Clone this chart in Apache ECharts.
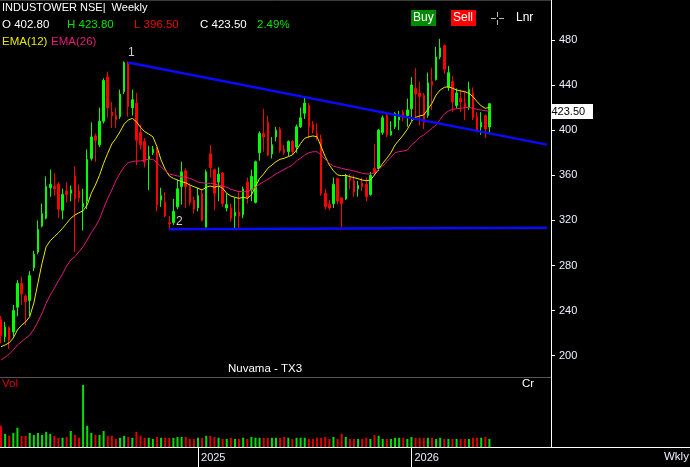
<!DOCTYPE html>
<html><head><meta charset="utf-8">
<script src="https://cdn.jsdelivr.net/npm/echarts@6/dist/echarts.min.js"></script>
<style>html,body{margin:0;padding:0;background:#000;overflow:hidden}#c{width:690px;height:467px}</style>
</head><body><div id="c"></div>
<script>
// ---- data ----
const opens = [232,217,225,221,243,264,253,249,278,292,
 315,322,349,350,352,329,346,344,359,346,
 332,337,375,395,387,408,447,416,413,412,
 434,460,420,424,398,390,374,380,382,338,
 336,318,318,332,350,364,350,338,331,344,
 314,379,365,354,362,331,331,324,327,325,
 354,347,336,380,397,407,379,394,401,383,
 381,390,385,403,415,422,405,397,392,344,
 334,335,357,340,339,358,355,348,353,352,
 343,366,366,398,413,396,403,409,416,413,
 419,437,433,431,413,443,445,465,475,438,
 443,422,428,424,420,433,412,403,413,402.8];
const closes = [218,225,214,240,264,255,248,271,290,312,
 326,350,352,348,330,343,343,347,339,340,
 335,374,394,391,408,444,420,413,409,432,
 460,421,427,391,387,372,377,383,334,342,
 324,317,328,348,363,350,336,330,342,320,
 363,367,344,361,335,334,322,327,324,348,
 340,359,372,397,394,378,387,400,382,380,
 390,381,403,411,424,403,400,394,344,332,
 331,352,337,335,360,356,345,351,350,341,
 360,362,400,411,396,399,415,412,413,418,
 440,432,430,407,442,440,465,473,454,451,
 425,433,425,421,436,411,400,407,401,423.5];
const lows = [211,212,206,217,235,245,227,235,275,290,
 314,321,341,342,322,321,336,337,292,336,
 311,330,373,372,385,406,411,402,402,410,
 432,412,413,369,383,367,347,378,328,332,
 323,312,316,330,334,331,333,326,328,319,
 314,358,329,337,332,328,319,313,313,322,
 335,337,335,373,381,377,375,390,380,378,
 377,378,380,402,410,393,397,391,342,330,
 329,331,334,313,338,348,341,341,346,337,
 342,360,364,396,394,395,401,400,408,403,
 408,410,404,401,411,418,444,463,450,435,
 416,419,416,409,418,409,398,396,393,396.5];
const highs = [235,230,226,245,267,270,254,275,293,320,
 335,359,365,362,354,348,354,351,368,352,
 348,383,407,397,420,446,452,425,420,436,
 461,461,436,433,405,393,386,386,385,349,
 345,324,339,356,372,366,353,341,349,347,
 365,387,366,367,363,344,335,340,345,350,
 358,365,373,399,419,413,394,403,403,387,
 391,391,405,420,429,424,408,406,396,348,
 338,358,358,340,361,361,360,355,358,358,
 363,388,401,413,415,408,416,417,418,428,
 447,455,443,433,451,455,474,481,476,457,
 448,437,436,434,443,438,416,416,414,423.8];
const volumes = [5.3,3.3,2.8,3.5,4.8,2.8,2.8,3.5,3.0,3.5,
 3.0,3.8,3.3,2.8,2.3,2.3,2.5,4.0,3.0,2.3,
 15.5,5.3,3.5,3.0,3.0,4.0,2.8,2.8,2.0,2.3,
 2.8,2.5,2.3,3.8,2.8,2.3,2.3,2.0,2.5,2.3,
 2.3,2.3,2.3,2.5,2.5,2.5,2.0,2.0,2.3,2.3,
 2.8,2.8,2.5,2.3,2.0,2.0,2.3,2.0,2.0,2.3,
 2.0,2.5,2.3,2.3,2.3,2.3,2.3,2.3,2.3,2.5,
 2.3,2.0,2.3,2.3,2.3,2.0,2.0,2.3,2.3,2.5,
 2.0,2.5,2.0,3.3,2.5,2.0,2.0,2.0,2.0,2.3,
 2.0,3.0,2.8,2.0,2.0,2.0,2.3,2.3,2.3,2.0,
 2.5,2.3,2.3,2.3,2.3,2.3,2.0,2.3,2.0,2.0,
 2.0,2.0,2.0,2.0,2.0,2.3,2.3,2.3,2.5,2.0];
const ema12 = [208,209.5,211.5,215.7,222.8,227,230,234.6,246.7,264.5,
 282,296.7,302,305.5,309,313,317.4,321.9,324.8,326.8,
 328.6,333.7,344,351.4,360,370.6,379.5,387.8,392.8,398.7,
 405.5,409,410.5,407.5,402.6,398.7,396.6,394.2,385.4,373.6,
 365.3,359.4,357.3,355.8,354.3,353.4,351.4,349.9,348.5,347,
 349.4,350.5,349.4,350.5,348.5,344,341.6,340.5,339.6,340.5,
 339.6,342.5,350,357.3,361.2,366.2,369.1,372.1,374.2,375.1,
 376.6,378,382.4,388.3,392.8,394.2,394.9,394.2,385.4,376.5,
 369.1,364,360.3,359.7,360,358.8,357.9,357,355.8,355.2,
 355.8,360.3,365.3,370.6,375.1,380,386.9,391.3,395.7,400.8,
 407.5,411.4,412.6,413.5,418.5,423.8,431.2,435.7,438,438.6,
 437.2,435.7,434.8,434.2,432.7,429.7,425.3,421.5,419.4,420.3];
const ema26 = [196.2,198.6,201.5,205,209.5,212.4,215.4,218.4,223.4,230.2,
 237.6,246.5,253.8,259.8,266.5,272.5,279.6,284.9,287.8,292.3,
 296.7,302.6,309.1,314.4,321,330.7,339.6,347,355.2,361.8,
 367.6,371.2,372.1,372.7,372.7,373.6,374.2,374.2,371.2,367.6,
 364.1,361.2,360.3,359.4,358.8,358.2,357.3,355.8,354,353.4,
 352.9,352.9,352.3,351.4,350.5,349.4,347.6,346.4,345.5,345.5,
 345.5,347,349.4,352.3,354.3,356.4,358.8,361.2,363.2,365.3,
 367.1,369.1,372.8,375.1,378,380,380.9,380.9,378,374.2,
 370.6,368.2,367.1,366.2,365.3,364.7,363.8,362.9,361.8,361.2,
 361.2,362.3,365.3,368.2,372.1,376,380,381,381.5,382.4,
 386.9,389.8,393.7,395.7,398.7,401.7,404.6,409.6,414.4,417,
 418.5,419.1,419.4,420,420.3,419.4,418.5,417.9,417.3,417];
const priceTicks = [200,240,280,320,360,400,440,480];
const yearIdx = [48,100];
const yearLabels = ['2025','2026'];
const resistance = [[31,460],[133,387.2]];
const support = [[41,312.1],[133,313.5]];
const pivotIdx = [31,41];
const pivotVal = [460,312.1];
const pivotText = ['1','2'];
const slotCount = 135;
const lastClose = 423.5;

// ---- build ----
const categories = [];
for (let i = 0; i < slotCount; i++) categories.push('w' + i);
const candle = opens.map((o, i) => [o, closes[i], lows[i], highs[i]]);
const volData = volumes.map((v, i) => ({value: v, itemStyle: {color: closes[i] >= opens[i] ? '#00e000' : '#e00000'}}));
const FONT = 'Liberation Sans';

const chart = echarts.init(document.getElementById('c'), null, {renderer: 'canvas', width: 690, height: 467});
const GL = 1, GW = 550;
const option = {
  animation: false,
  backgroundColor: '#000',
  textStyle: {fontFamily: FONT},
  grid: [
    {left: GL, width: GW, top: 0, height: 400.8},
    {left: GL, width: GW, top: 377, height: 70}
  ],
  xAxis: [
    {type: 'category', data: categories, gridIndex: 0, boundaryGap: false,
     axisLine: {show: false}, axisTick: {show: false}, axisLabel: {show: false}, splitLine: {show: false}},
    {type: 'category', data: categories, gridIndex: 1, boundaryGap: false,
     axisLine: {show: false},
     axisTick: {show: true, length: 20, inside: false, lineStyle: {color: '#fff', width: 1},
       interval: (i) => yearIdx.indexOf(i) >= 0},
     axisLabel: {show: true, color: '#e8eeff', fontSize: 11, fontFamily: FONT, align: 'left', margin: 5,
       padding: [0, 0, 0, 3],
       interval: (i) => yearIdx.indexOf(i) >= 0,
       formatter: (v, i) => { const k = yearIdx.indexOf(i); return k >= 0 ? yearLabels[k] : ''; }},
     splitLine: {show: false}}
  ],
  yAxis: [
    {type: 'value', gridIndex: 0, position: 'right', min: 160, max: 515.48, interval: 40, scale: false,
     axisLine: {show: false},
     axisTick: {show: true, length: 4, lineStyle: {color: '#fff'}, customValues: priceTicks},
     axisLabel: {show: true, color: '#eef2ff', fontSize: 11, fontFamily: FONT, margin: 8, customValues: priceTicks,
       formatter: (v) => priceTicks.indexOf(v) >= 0 ? String(v) : ''},
     splitLine: {show: false}},
    {type: 'value', gridIndex: 1, position: 'right', min: 0, max: 17.5,
     axisLine: {show: false},
     axisTick: {show: false}, axisLabel: {show: false}, splitLine: {show: false}}
  ],
  series: [
    {type: 'candlestick', xAxisIndex: 0, yAxisIndex: 0, data: candle, barWidth: 2,
     itemStyle: {color: '#00ff00', color0: '#ff0000', borderColor: '#00ff00', borderColor0: '#ff0000', borderWidth: 1}},
    {type: 'line', xAxisIndex: 0, yAxisIndex: 0, data: ema12, symbol: 'none', lineStyle: {color: '#e8e800', width: 1}},
    {type: 'line', xAxisIndex: 0, yAxisIndex: 0, data: ema26, symbol: 'none', lineStyle: {color: '#e0187c', width: 1}},
    {type: 'line', xAxisIndex: 0, yAxisIndex: 0, data: resistance, symbol: 'none', lineStyle: {color: '#0a0aff', width: 2.5}},
    {type: 'line', xAxisIndex: 0, yAxisIndex: 0, data: support, symbol: 'none', lineStyle: {color: '#0a0aff', width: 2.5}},
    {type: 'scatter', xAxisIndex: 0, yAxisIndex: 0, symbolSize: 0,
     data: pivotIdx.map((x, i) => ({value: [x, pivotVal[i]], name: pivotText[i],
       label: {offset: i === 0 ? [3, -10] : [10, -8]}})),
     label: {show: true, position: 'inside', color: '#fff', fontSize: 12, fontFamily: FONT, formatter: (p) => p.name}},
    {type: 'bar', xAxisIndex: 1, yAxisIndex: 1, data: volData, barWidth: 2}
  ]
};
chart.setOption(option);

// price tag placed with the chart's own scale
const tagY = chart.convertToPixel({yAxisIndex: 0}, lastClose);
const axisX = GL + GW;
const W = '#fff';
const txt = (t, x, y, color, size, extra) => Object.assign({type: 'text', x: x, y: y,
  style: {text: t, fill: color, font: (size || 11) + 'px "' + FONT + '"', textVerticalAlign: 'middle'}}, extra || {});
chart.setOption({
  graphic: [
    {type: 'line', shape: {x1: 0, y1: 0.5, x2: axisX, y2: 0.5}, style: {stroke: '#3a3a3a', lineWidth: 1}},
    {type: 'line', shape: {x1: 0, y1: 377.5, x2: axisX, y2: 377.5}, style: {stroke: '#555', lineWidth: 1}},
    {type: 'line', shape: {x1: axisX + 0.5, y1: 0, x2: axisX + 0.5, y2: 447}, style: {stroke: W, lineWidth: 1}},
    {type: 'line', shape: {x1: 0, y1: 447.5, x2: 690, y2: 447.5}, style: {stroke: W, lineWidth: 1}},
    {type: 'rect', shape: {x: axisX, y: Math.round(tagY), width: 42, height: 15}, style: {fill: '#fff'}},
    txt(String(lastClose.toFixed(2)), axisX + 0.5, Math.round(tagY) + 8, '#000', 11),
    txt('INDUSTOWER NSE|  Weekly', 2, 8, W, 11),
    txt('O 402.80', 2, 25, W, 11.5),
    txt('H 423.80', 67, 25, '#00e400', 11.5),
    txt('L 396.50', 134, 25, '#f00000', 11.5),
    txt('C 423.50', 200, 25, W, 11.5),
    txt('2.49%', 257, 25, '#00e400', 11.5),
    txt('EMA(12)', 2, 42, '#e8e800', 11.5),
    txt('EMA(26)', 51, 42, '#e6187d', 11.5),
    {type: 'rect', shape: {x: 411, y: 10, width: 25, height: 16}, style: {fill: '#008a00'}},
    txt('Buy', 413, 18, W, 12),
    {type: 'rect', shape: {x: 451, y: 10, width: 25, height: 16}, style: {fill: '#ff0000'}},
    txt('Sell', 453, 18, W, 12),
    {type: 'line', shape: {x1: 491, y1: 18.5, x2: 496, y2: 18.5}, style: {stroke: '#b8b8c8', lineWidth: 1}},
    {type: 'line', shape: {x1: 499, y1: 18.5, x2: 504, y2: 18.5}, style: {stroke: '#b8b8c8', lineWidth: 1}},
    {type: 'line', shape: {x1: 497.5, y1: 12, x2: 497.5, y2: 17}, style: {stroke: '#b8b8c8', lineWidth: 1}},
    {type: 'line', shape: {x1: 497.5, y1: 20, x2: 497.5, y2: 25}, style: {stroke: '#b8b8c8', lineWidth: 1}},
    txt('Lnr', 516, 18, W, 12),
    txt('Nuvama - TX3', 228, 369, W, 11.5),
    txt('Vol', 2, 384, '#e00000', 11.5),
    txt('Cr', 522, 384, W, 11.5),
    txt('Wkly', 664, 457, '#e8eeff', 11.5)
  ]
});
</script>
</body></html>
